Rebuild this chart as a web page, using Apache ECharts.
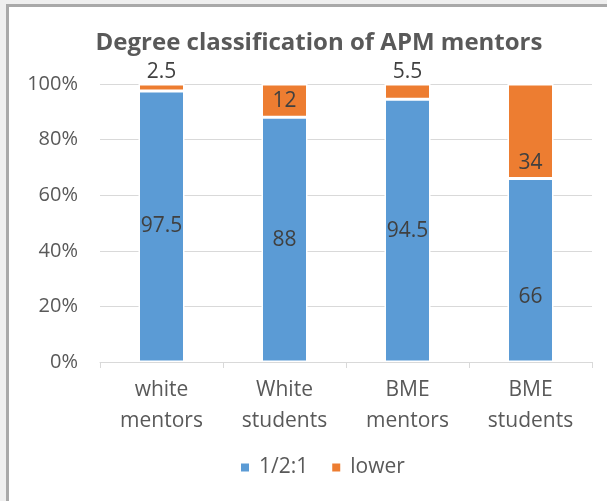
<!DOCTYPE html>
<html>
<head>
<meta charset="utf-8">
<script src="https://cdn.jsdelivr.net/npm/echarts@6/dist/echarts.min.js"></script>
<style>
html,body{margin:0;padding:0;width:607px;height:501px;overflow:hidden;background:#efefef;}
#frame{position:absolute;left:6px;top:4px;width:601px;height:497px;border-left:3px solid #a9a9a9;border-top:3px solid #a9a9a9;background:#fff;}
#chart{position:absolute;left:0;top:0;width:607px;height:501px;}
</style>
</head>
<body>
<div id="frame"></div>
<div id="chart"></div>
<script>
const categories = ['white\nmentors', 'White\nstudents', 'BME\nmentors', 'BME\nstudents'];
const seriesNames = ['1/2:1', 'lower'];
const firstClass = [97.5, 88, 94.5, 66];
const lower = [2.5, 12, 5.5, 34];
const yTicks = [0, 20, 40, 60, 80, 100];

const font = 'Open Sans, Liberation Sans, sans-serif';
const chart = echarts.init(document.getElementById('chart'), null, {renderer: 'canvas'});

const blueData = firstClass.map((v, i) => {
  const d = {value: v};
  if (i === 3) d.label = {offset: [0, 27]};
  return d;
});
const orangeData = lower.map((v, i) => {
  const d = {value: v};
  if (v < 8) d.label = {position: 'top', distance: 1};
  if (i === 3) d.label = {offset: [0, 32]};
  return d;
});

chart.setOption({
  animation: false,
  backgroundColor: 'transparent',
  title: {
    text: 'Degree classification of APM mentors',
    left: 314, textAlign: 'center', top: 26,
    textStyle: {fontFamily: font, fontWeight: 'bold', fontSize: 24, color: '#595959'}
  },
  legend: {
    bottom: 18, left: 234,
    itemWidth: 10, itemHeight: 10, itemGap: 22,
    icon: 'rect',
    textStyle: {fontFamily: font, fontSize: 21, color: '#595959', padding: [0, 0, 0, 4]},
    data: seriesNames
  },
  grid: {left: 100, right: 15, top: 84, bottom: 139},
  xAxis: {
    type: 'category', data: categories,
    axisLine: {lineStyle: {color: '#d9d9d9'}},
    axisTick: {show: true, length: 6, lineStyle: {color: '#d9d9d9'}},
    axisLabel: {fontFamily: font, fontSize: 21, color: '#595959', lineHeight: 31, margin: 13}
  },
  yAxis: {
    type: 'value', min: yTicks[0], max: yTicks[yTicks.length - 1], interval: 20,
    axisLine: {show: false}, axisTick: {show: false},
    splitLine: {lineStyle: {color: '#d9d9d9'}},
    axisLabel: {fontFamily: font, fontSize: 20, color: '#595959', margin: 22, formatter: v => v + '%'}
  },
  series: [
    {
      name: seriesNames[0], type: 'bar', stack: 'a', data: blueData, barWidth: 46,
      itemStyle: {color: '#5b9bd5', borderColor: '#fff', borderWidth: 1.5},
      label: {show: true, position: 'inside', fontFamily: font, fontSize: 21, color: '#404040'}
    },
    {
      name: seriesNames[1], type: 'bar', stack: 'a', data: orangeData, barWidth: 46,
      itemStyle: {color: '#ed7d31', borderColor: '#fff', borderWidth: 1.5},
      label: {show: true, position: 'inside', fontFamily: font, fontSize: 21, color: '#404040'}
    }
  ]
});
</script>
</body>
</html>
